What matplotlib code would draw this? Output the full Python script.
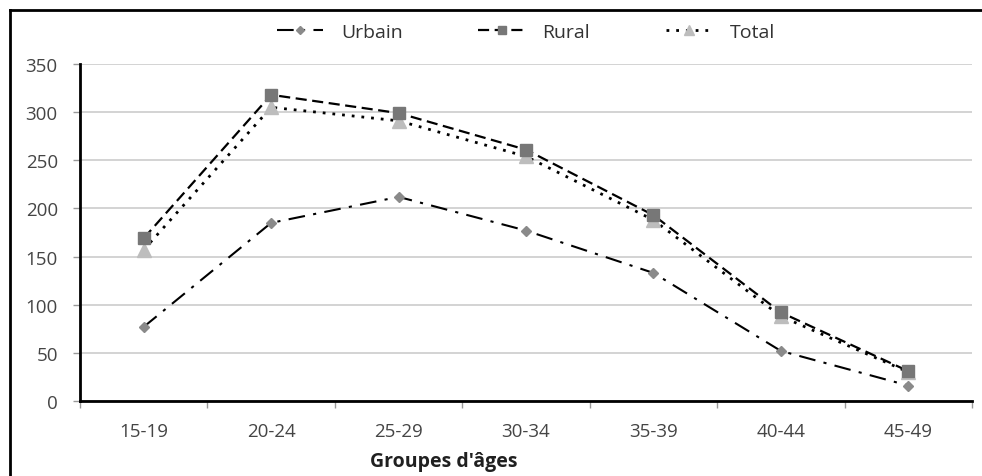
import matplotlib
matplotlib.use("Agg")
import matplotlib.pyplot as plt
from matplotlib.lines import Line2D
import numpy as np

categories = ["15-19", "20-24", "25-29", "30-34", "35-39", "40-44", "45-49"]
urbain = [77, 185, 212, 177, 133, 52, 16]
rural = [169, 318, 299, 261, 193, 92, 31]
total = [157, 305, 291, 254, 188, 88, 30]
yticks = [0, 50, 100, 150, 200, 250, 300, 350]

plt.rcParams['font.family'] = ['Open Sans', 'DejaVu Sans']

W, H = 982, 477
fig = plt.figure(figsize=(W/100, H/100), dpi=100)
ax = fig.add_axes([80/W, 1-402/H, (972-80)/W, (402-65)/H])

x = np.arange(len(categories))
ax.plot(x, urbain, color='black', linestyle=(0, (8, 4, 1.5, 4)), lw=1.5,
        marker='D', markersize=5, markerfacecolor='#8a8a8a', markeredgecolor='#8a8a8a', label='Urbain', zorder=3)
ax.plot(x, rural, color='black', linestyle=(0, (5, 2.5)), lw=1.6,
        marker='s', markersize=8, markerfacecolor='#777777', markeredgecolor='#777777', label='Rural', zorder=4)
ax.plot(x, total, color='black', linestyle=(0, (1, 2.5)), lw=2,
        marker='^', markersize=10, markerfacecolor='#bdbdbd', markeredgecolor='#bdbdbd', label='Total', zorder=3)

ax.set_xlim(-0.5, len(categories) - 0.5)
ax.set_ylim(0, 350)
ax.set_yticks(yticks)
ax.set_xticks(x)
ax.set_xticklabels(categories)
ax.set_xticks(np.arange(-0.5, len(categories), 1), minor=True)
ax.tick_params(axis='x', which='major', length=0, pad=15, labelsize=13.5, labelcolor='#454545')
ax.tick_params(axis='x', which='minor', length=5, width=1, color='#999999', direction='out')
ax.tick_params(axis='y', length=5, width=1, color='#999999', pad=11, labelsize=13.5, labelcolor='#454545')
ax.grid(axis='y', color='#cccccc', lw=1.2)
ax.set_axisbelow(True)
for s in ['top', 'right']:
    ax.spines[s].set_visible(False)
ax.spines['left'].set_linewidth(2)
ax.spines['bottom'].set_linewidth(2)
ax.set_xlabel("Groupes d'âges", fontsize=14, color='#202020', fontweight='bold')
ax.xaxis.set_label_coords((444-80)/(972-80), -(462-402)/(402-65))
ax.xaxis.label.set_verticalalignment('center')

leg = fig.legend(loc='center', bbox_to_anchor=(526/W, 1-33/H), ncol=3, frameon=False,
                 fontsize=14, handlelength=2.4, columnspacing=3.9, handletextpad=0.9,
                 markerscale=0.75)
for t in leg.get_texts():
    t.set_color('#333333')

# outer frame
fig.add_artist(Line2D([10/W, 10/W], [0, 1-11/H], color='black', lw=2, transform=fig.transFigure))
fig.add_artist(Line2D([10/W, 1], [1-11/H, 1-11/H], color='black', lw=2, transform=fig.transFigure))

fig.savefig("out.png", dpi=100)
